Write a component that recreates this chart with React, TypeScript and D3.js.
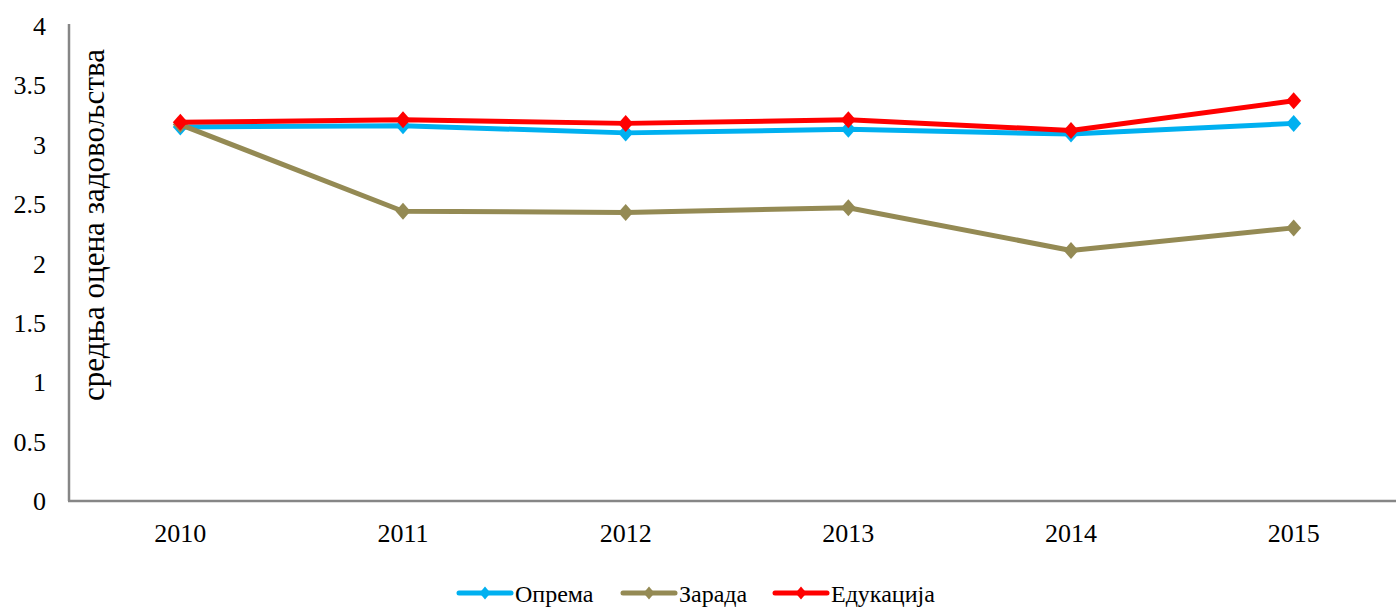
import React from "react";
import * as d3 from "d3";

const years = ["2010", "2011", "2012", "2013", "2014", "2015"];
const oprema = [3.15, 3.16, 3.10, 3.13, 3.09, 3.18];
const zarada = [3.17, 2.44, 2.43, 2.47, 2.11, 2.30];
const edukacija = [3.19, 3.21, 3.18, 3.21, 3.12, 3.37];
const yTicks = [0, 0.5, 1, 1.5, 2, 2.5, 3, 3.5, 4];
const seriesNames = ["Опрема", "Зарада", "Едукација"];
const seriesColors = ["#00B0F0", "#948A54", "#FF0000"];
const yTitle = "средња оцена задовољства";

const W = 1396;
const H = 607;

export default function App() {
  const x = d3.scaleBand<string>().domain(years).range([69, 1405]).padding(0);
  const y = d3.scaleLinear().domain([0, 4]).range([501, 26]);
  const series = [oprema, zarada, edukacija];
  const cx = (i: number) => (x(years[i]) as number) + x.bandwidth() / 2;
  const line = d3
    .line<number>()
    .x((_, i) => cx(i))
    .y((d) => y(d));
  const diamond = (px: number, py: number, w: number, h: number) =>
    `M${px},${py - h / 2}L${px + w / 2},${py}L${px},${py + h / 2}L${px - w / 2},${py}Z`;
  const font = "'Liberation Serif', 'Times New Roman', serif";
  const legendX = [459, 623, 775];
  return (
    <svg
      width={W}
      height={H}
      style={{ position: "absolute", left: 0, top: 0, background: "#fff" }}
      fontFamily={font}
    >
      <line x1={69} y1={24} x2={69} y2={y(0)} stroke="#868686" strokeWidth={2.5} />
      <line x1={68} y1={y(0)} x2={1405} y2={y(0)} stroke="#868686" strokeWidth={2.5} />
      {yTicks.map((t) => (
        <text key={t} x={46} y={y(t)} dy="0.35em" textAnchor="end" fontSize={26} fill="#000">
          {t}
        </text>
      ))}
      {years.map((yr, i) => (
        <text key={yr} x={cx(i)} y={542} textAnchor="middle" fontSize={26} fill="#000">
          {yr}
        </text>
      ))}
      <text
        transform={`translate(104,225) rotate(-90)`}
        textAnchor="middle"
        fontSize={31}
        textLength={352}
        lengthAdjust="spacingAndGlyphs"
        fill="#000"
      >
        {yTitle}
      </text>
      {series.map((s, si) => (
        <g key={si}>
          <path d={line(s) as string} fill="none" stroke={seriesColors[si]} strokeWidth={5} strokeLinejoin="round" />
          {s.map((v, i) => (
            <path key={i} d={diamond(cx(i), y(v), 15, 17)} fill={seriesColors[si]} />
          ))}
        </g>
      ))}
      {seriesNames.map((n, i) => (
        <g key={n}>
          <line x1={legendX[i]} y1={593} x2={legendX[i] + 52} y2={593} stroke={seriesColors[i]} strokeWidth={5} strokeLinecap="round" />
          <path d={diamond(legendX[i] + 26, 593, 11, 13)} fill={seriesColors[i]} />
          <text x={legendX[i] + 56} y={602} fontSize={24} fill="#000">
            {n}
          </text>
        </g>
      ))}
    </svg>
  );
}
